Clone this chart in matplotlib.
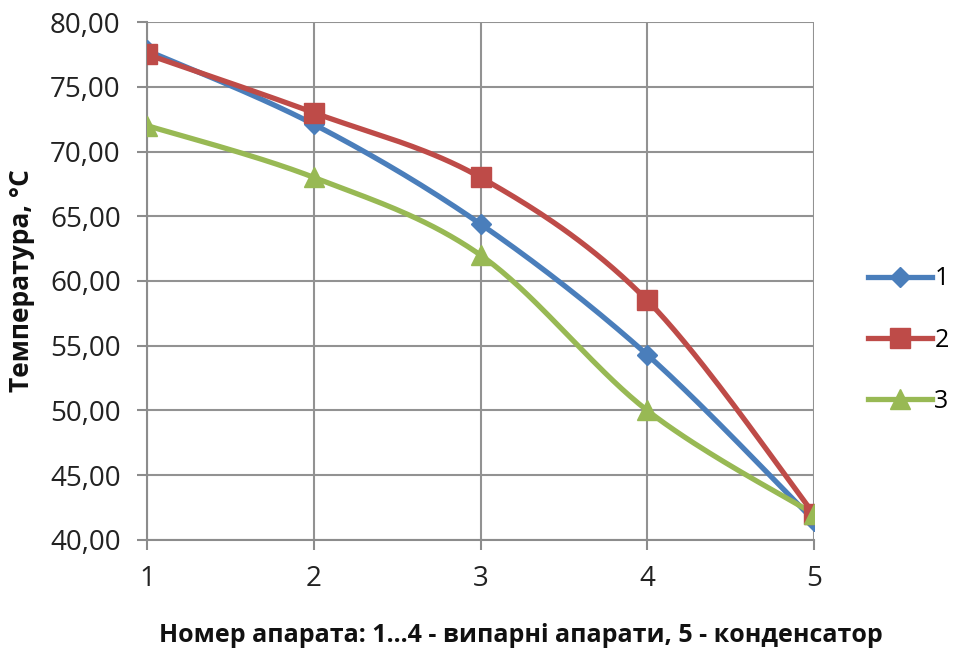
import numpy as np
import matplotlib
matplotlib.use("Agg")
import matplotlib.pyplot as plt

x_vals = [1, 2, 3, 4, 5]
series_names = ["1", "2", "3"]
s1 = [77.8, 72.1, 64.4, 54.3, 41.5]
s2 = [77.5, 73.0, 68.0, 58.5, 42.0]
s3 = [72.0, 68.0, 62.0, 50.0, 42.0]
y_ticks = [40, 45, 50, 55, 60, 65, 70, 75, 80]

colors = ["#4A7EBB", "#BE4B48", "#98B954"]
markers = ["D", "s", "^"]
msizes = [10, 15, 14]

plt.rcParams['font.family'] = ['Open Sans', 'DejaVu Sans']


def smooth(xs, ys, n=40):
    P = np.column_stack([xs, ys]).astype(float)
    P = np.vstack([P[0], P, P[-1]])
    out = []
    for i in range(1, len(P) - 2):
        p0, p1, p2, p3 = P[i - 1], P[i], P[i + 1], P[i + 2]
        c1 = p1 + (p2 - p0) / 6.0
        c2 = p2 - (p3 - p1) / 6.0
        t = np.linspace(0, 1, n)[:, None]
        b = ((1 - t) ** 3) * p1 + 3 * ((1 - t) ** 2) * t * c1 + 3 * (1 - t) * t ** 2 * c2 + t ** 3 * p2
        out.append(b if i == 1 else b[1:])
    out = np.vstack(out)
    return out[:, 0], out[:, 1]


fig = plt.figure(figsize=(9.56, 6.55), dpi=100)
ax = fig.add_axes([0.1538, 0.1756, 0.6977, 0.7908])

for ys, c, m, ms, name in zip([s1, s2, s3], colors, markers, msizes, series_names):
    sx, sy = smooth(x_vals, ys)
    ax.plot(sx, sy, color=c, lw=3.8, solid_capstyle='round', zorder=3)
    ax.plot(x_vals, ys, ls='none', marker=m, ms=ms, color=c, zorder=4)
    ax.plot([], [], color=c, lw=3.8, marker=m, ms=ms, label=name)

ax.set_xlim(1, 5)
ax.set_ylim(40, 80)
ax.set_xticks(x_vals)
ax.set_xticklabels([str(v) for v in x_vals])
ax.set_yticks(y_ticks)
ax.set_yticklabels([f"{v:.2f}".replace('.', ',') for v in y_ticks])
ax.grid(True, color='#929292', lw=1.5)
ax.set_axisbelow(True)
for s in ['top', 'right']:
    ax.spines[s].set_visible(False)
for s in ['left', 'bottom']:
    ax.spines[s].set_color('#8C8C8C')
    ax.spines[s].set_linewidth(1.5)
ax.tick_params(axis='both', labelsize=20, color='#8C8C8C', length=7, width=1.5, labelcolor='#222222')
ax.tick_params(axis='x', pad=11)
ax.tick_params(axis='y', pad=12)
ax.set_xlabel("Номер апарата: 1...4 - випарні апарати, 5 - конденсатор", fontsize=18,
              fontweight='bold', color='#111111', va='top')
ax.xaxis.set_label_coords(0.561, -0.160)
ax.set_ylabel("Температура, °С", fontsize=19, fontweight='bold', labelpad=11, color='#111111')

leg = ax.legend(loc='center left', bbox_to_anchor=(1.081, 0.386), frameon=False, fontsize=18,
                handlelength=2.55, labelspacing=1.45, handletextpad=0.1,
                borderaxespad=0, borderpad=0)

fig.savefig("out.png", dpi=100)
